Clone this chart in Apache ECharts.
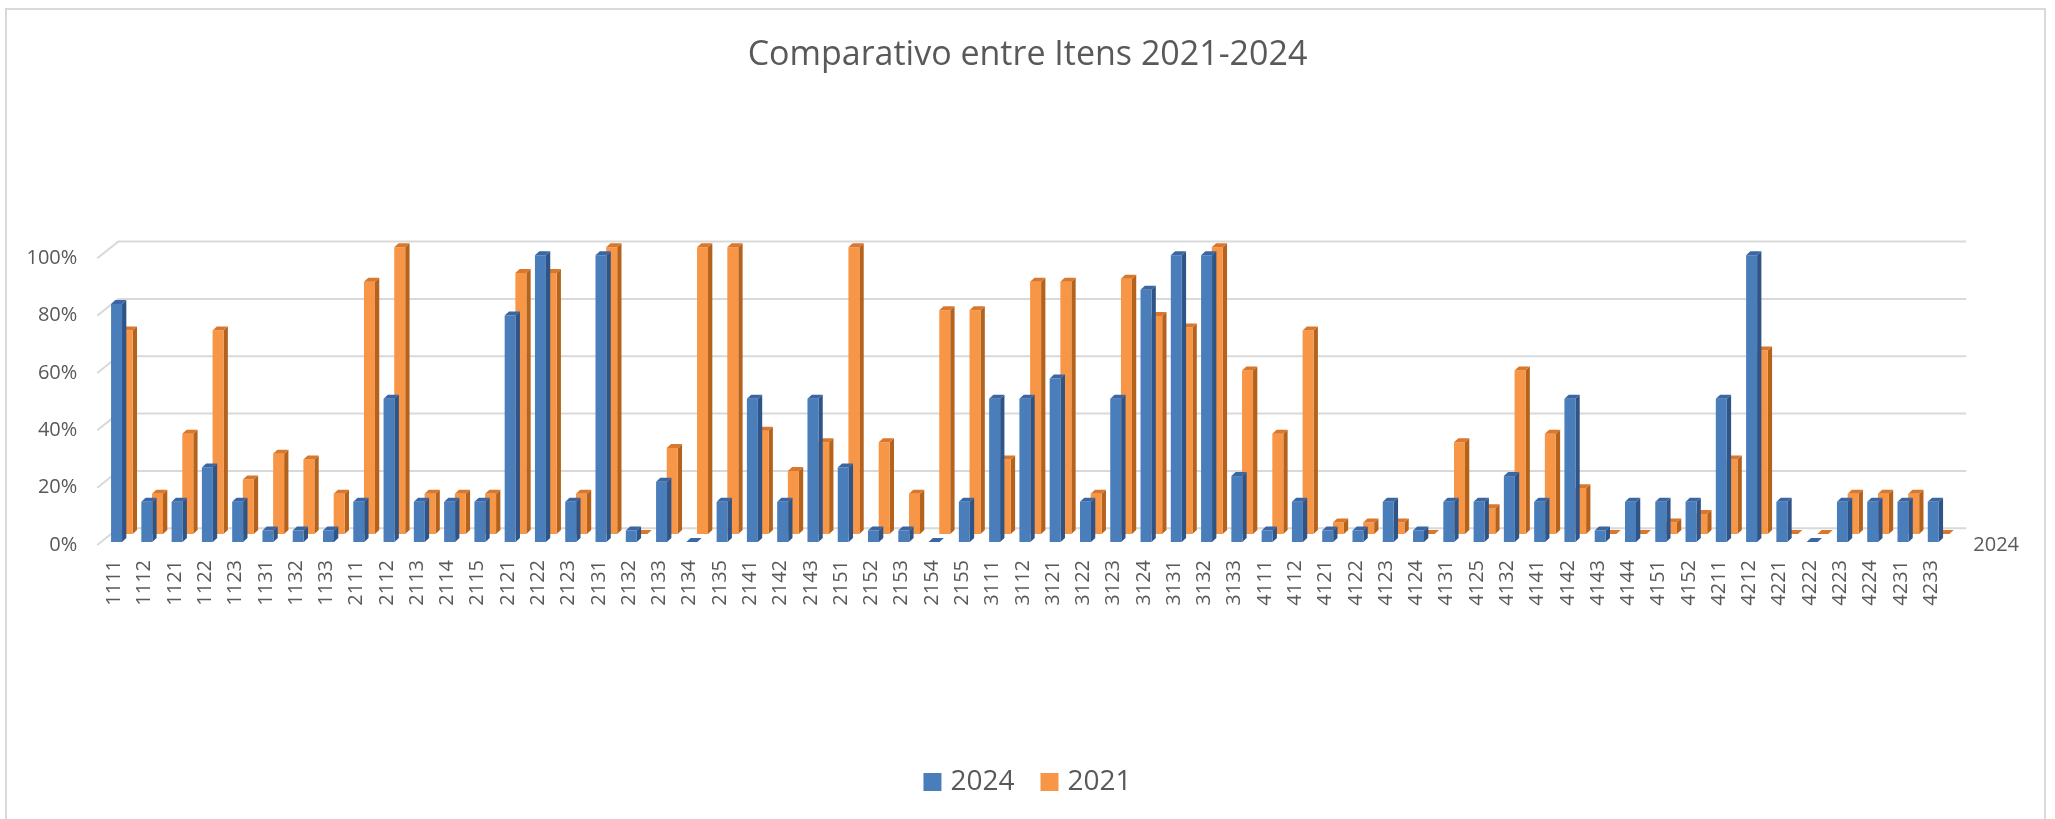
<!DOCTYPE html>
<html>
<head>
<meta charset="utf-8">
<script src="https://cdn.jsdelivr.net/npm/echarts@6/dist/echarts.min.js"></script>
<style>
  html, body { margin: 0; padding: 0; background: #fff; }
  #frame { position: absolute; left: 5px; top: 8px; width: 2041px; height: 830px; border: 2px solid #d9d9d9; box-sizing: border-box; }
  #main { position: absolute; left: 0; top: 0; width: 2055px; height: 819px; }
</style>
</head>
<body>
<div id="frame"></div>
<div id="main"></div>
<script>
// categorias (itens)
var itens = [
  "1111", "1112", "1121", "1122", "1123", "1131", "1132", "1133",
  "2111", "2112", "2113", "2114", "2115", "2121", "2122", "2123", "2131", "2132", "2133",
  "2134", "2135", "2141", "2142", "2143", "2151", "2152", "2153", "2154", "2155",
  "3111", "3112", "3121", "3122", "3123", "3124", "3131", "3132", "3133",
  "4111", "4112", "4121", "4122", "4123", "4124", "4131", "4125", "4132", "4141", "4142", "4143", "4144", "4151", "4152",
  "4211", "4212", "4221", "4222", "4223", "4224", "4231", "4233"
];

var valores2024 = [
  0.83, 0.14, 0.14, 0.26, 0.14, 0.04, 0.04, 0.04,
  0.14, 0.50, 0.14, 0.14, 0.14, 0.79, 1.00, 0.14, 1.00, 0.04, 0.21,
  0, 0.14, 0.50, 0.14, 0.50, 0.26, 0.04, 0.04, 0, 0.14,
  0.50, 0.50, 0.57, 0.14, 0.50, 0.88, 1.00, 1.00, 0.23,
  0.04, 0.14, 0.04, 0.04, 0.14, 0.04, 0.14, 0.14, 0.23, 0.14, 0.50, 0.04, 0.14, 0.14, 0.14,
  0.50, 1.00, 0.14, 0, 0.14, 0.14, 0.14, 0.14
];

var valores2021 = [
  0.71, 0.14, 0.35, 0.71, 0.19, 0.28, 0.26, 0.14,
  0.88, 1.00, 0.14, 0.14, 0.14, 0.91, 0.91, 0.14, 1.00, 0, 0.30,
  1.00, 1.00, 0.36, 0.22, 0.32, 1.00, 0.32, 0.14, 0.78, 0.78,
  0.26, 0.88, 0.88, 0.14, 0.89, 0.76, 0.72, 1.00, 0.57,
  0.35, 0.71, 0.04, 0.04, 0.04, 0, 0.32, 0.09, 0.57, 0.35, 0.16, 0, 0, 0.04, 0.07,
  0.26, 0.64, 0, 0, 0.14, 0.14, 0.14, 0
];

var ticksY = [0, 0.2, 0.4, 0.6, 0.8, 1];

var chartMain = echarts.init(document.getElementById("main"));

// coluna "3D" desenhada a partir das escalas do eixo
function coluna3d(desloc, subir, cores) {
  return function (params, api) {
    var i = api.value(0);
    var v = api.value(1);
    var banda = api.size([1, 0])[0];
    var base = api.coord([i, 0]);
    var topo = api.coord([i, v]);
    var larg = banda * 0.363;
    var x0 = base[0] + banda * desloc;
    var x1 = x0 + larg;
    var yb = base[1] - subir;
    var yt = topo[1] - subir;
    var d = 4.3, h = 4;
    return {
      type: "group",
      children: [
        {
          type: "polygon",
          shape: { points: [[x1, yt], [x1 + d, yt - h], [x1 + d, yb - h], [x1, yb]] },
          style: { fill: cores.lado },
        },
        {
          type: "rect",
          shape: { x: x0, y: yt, width: larg, height: yb - yt },
          style: { fill: cores.frente },
        },
        {
          type: "polygon",
          shape: { points: [[x0, yt], [x1, yt], [x1 + d, yt - h], [x0 + d, yt - h]] },
          style: { fill: cores.topo },
        },
      ],
    };
  };
}

// linhas de grade na parede do fundo
function gradeParede(params, api) {
  var v = api.value(1);
  var banda = api.size([1, 0])[0];
  var ini = api.coord([0, v]);
  var fim = api.coord([itens.length - 1, v]);
  var xa = ini[0] - banda / 2 - 2;
  var xb = xa + 21;
  var xc = fim[0] + banda / 2 + 20;
  return {
    type: "polyline",
    shape: { points: [[xa, ini[1]], [xb, ini[1] - 16.7], [xc, ini[1] - 16.7]] },
    style: { stroke: "#d9d9d9", lineWidth: 2, fill: null },
  };
}

var option = {
  animation: false,
  textStyle: { fontFamily: "Open Sans" },
  title: {
    text: "Comparativo entre Itens 2021-2024",
    left: "center",
    top: 33,
    textStyle: { fontSize: 34, fontWeight: "normal", color: "#595959", fontFamily: "Open Sans" },
  },
  legend: {
    data: ["2024", "2021"],
    bottom: 18,
    left: "center",
    icon: "rect",
    itemWidth: 18,
    itemHeight: 18,
    itemGap: 26,
    textStyle: { fontSize: 28, color: "#595959", padding: [0, 0, 0, 4] },
  },
  grid: {
    left: 99.3,
    right: 108.7,
    top: 258.3,
    bottom: 274,
  },
  xAxis: {
    type: "category",
    data: itens,
    name: "2024",
    nameLocation: "end",
    nameGap: 27,
    nameTextStyle: { fontSize: 20, color: "#595959", verticalAlign: "middle", padding: [0, 0, 6, 0] },
    axisLine: { show: false },
    axisTick: { show: false },
    axisLabel: { rotate: 90, fontSize: 20, color: "#595959", margin: 15, interval: 0 },
  },
  yAxis: {
    type: "value",
    min: 0,
    max: 1,
    interval: 0.2,
    axisLine: { show: false },
    axisTick: { show: false },
    splitLine: { show: false },
    axisLabel: {
      fontSize: 20,
      color: "#595959",
      margin: 22,
      formatter: function (v) {
        return Math.round(v * 100) + "%";
      },
    },
  },
  series: [
    {
      name: "grade",
      type: "custom",
      silent: true,
      z: 1,
      renderItem: gradeParede,
      encode: { x: 0, y: 1 },
      data: ticksY.map(function (t) { return [0, t]; }),
    },
    {
      name: "2021",
      type: "custom",
      z: 2,
      itemStyle: { color: "#F79646" },
      renderItem: coluna3d(0.241, 11, { frente: "#F79646", lado: "#B5621D", topo: "#D9782D" }),
      encode: { x: 0, y: 1 },
      data: valores2021.map(function (v, i) { return [i, v]; }),
    },
    {
      name: "2024",
      type: "custom",
      z: 3,
      itemStyle: { color: "#4A7EBB" },
      renderItem: coluna3d(-0.112, 3, { frente: "#4A7EBB", lado: "#2F5588", topo: "#3A67A3" }),
      encode: { x: 0, y: 1 },
      data: valores2024.map(function (v, i) { return [i, v]; }),
    },
  ],
};
chartMain && chartMain.setOption(option);
</script>
</body>
</html>
